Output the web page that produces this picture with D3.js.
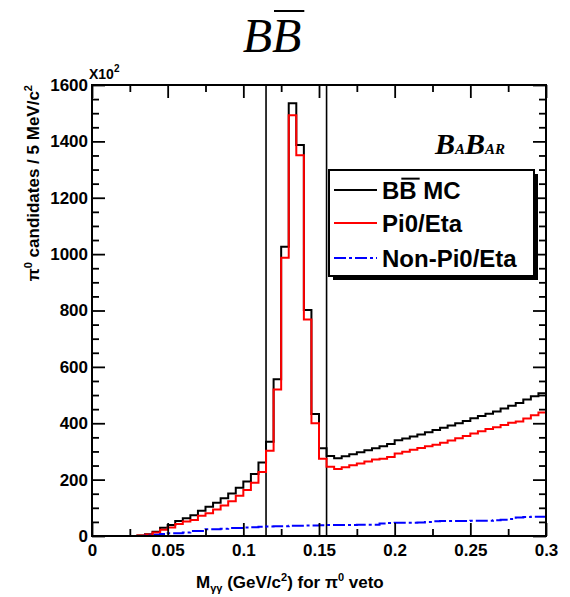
<!DOCTYPE html>
<html>
<head>
<meta charset="utf-8">
<script src="https://cdn.jsdelivr.net/npm/d3@7"></script>
<style>
    body { margin: 0; background: #fff; }
    svg text { font-family: "Liberation Sans", Arial, Helvetica, sans-serif; }
</style>
</head>
<body>
<div id="chart"></div>
<script>
// 5 MeV bins from 0 to 0.3 GeV/c^2 (values in units of 10^2)
const binWidth = 0.005;
const xDomain = [0, 0.3];
const yDomain = [0, 1600];
const vetoCuts = [0.115, 0.155];

const bbMC = [
    0, 0, 0, 0, 0, 0, 2, 6, 15, 29,
    39, 53, 63, 74, 90, 104, 118, 134, 151, 171,
    193, 220, 261, 334, 556, 1026, 1535, 1387, 802, 433,
    311, 284, 276, 283, 290, 297, 304, 311, 318, 326,
    340, 346, 353, 360, 368, 376, 384, 392, 400, 408,
    418, 426, 434, 442, 452, 462, 472, 484, 496, 506
];
const pi0Eta = [
    0, 0, 0, 0, 0, 0, 2, 5, 12, 22,
    30, 43, 51, 57, 72, 81, 94, 108, 123, 143,
    163, 189, 227, 302, 520, 987, 1493, 1351, 768, 400,
    274, 246, 238, 244, 251, 257, 264, 271, 274, 280,
    293, 299, 306, 312, 318, 324, 331, 339, 347, 355,
    364, 372, 380, 386, 394, 402, 406, 417, 428, 438
];
const nonPi0Eta = [
    0, 0, 0, 0, 0, 0, 0, 2, 4, 7,
    10, 10, 12, 18, 18, 24, 24, 26, 28, 28,
    30, 31, 33, 34, 35, 35, 36, 36, 37, 37,
    38, 39, 39, 39, 39, 40, 40, 40, 44, 46,
    47, 47, 47, 48, 50, 52, 53, 53, 53, 53,
    54, 54, 54, 56, 58, 60, 66, 67, 68, 68
];

const xMajor = [0, 0.05, 0.1, 0.15, 0.2, 0.25, 0.3];
const xMinor = [0.025, 0.075, 0.125, 0.175, 0.225, 0.275];
const yMajor = [0, 200, 400, 600, 800, 1000, 1200, 1400, 1600];
const yMinor = d3.range(0, 1601, 50).filter(v => v % 200 !== 0);

const legendItems = [
    { label: "BB MC", color: "#000000", dash: null, bar: true },
    { label: "Pi0/Eta", color: "#ff0000", dash: null },
    { label: "Non-Pi0/Eta", color: "#0000ff", dash: "12,3,3,3" }
];

const width = 570, height = 597;
const frame = { left: 92, right: 546, top: 85, bottom: 536 };

const svg = d3.select("#chart")
    .append("svg")
    .attr("width", width)
    .attr("height", height);

const x = d3.scaleLinear().domain(xDomain).range([frame.left, frame.right]);
const y = d3.scaleLinear().domain(yDomain).range([frame.bottom, frame.top]);

// step outline like ROOT's histogram drawing
function histPoints(values) {
    const pts = [[xDomain[0], 0]];
    values.forEach((v, i) => pts.push([xDomain[0] + i * binWidth, v]));
    pts.push([xDomain[1], values[values.length - 1]]);
    pts.push([xDomain[1], 0]);
    return pts;
}
const stepLine = d3.line()
    .x(d => x(d[0]))
    .y(d => y(d[1]))
    .curve(d3.curveStepAfter);

svg.append("path")
    .attr("d", stepLine(histPoints(bbMC)))
    .attr("fill", "none")
    .attr("stroke", "#000")
    .attr("stroke-width", 2);

// veto window lines
svg.append("g")
    .selectAll("line")
    .data(vetoCuts)
    .enter().append("line")
    .attr("x1", d => x(d))
    .attr("x2", d => x(d))
    .attr("y1", y(yDomain[0]))
    .attr("y2", y(yDomain[1]))
    .attr("stroke", "#000")
    .attr("stroke-width", 1.6);

svg.append("path")
    .attr("d", stepLine(histPoints(pi0Eta)))
    .attr("fill", "none")
    .attr("stroke", "#ff0000")
    .attr("stroke-width", 2);

svg.append("path")
    .attr("d", stepLine(histPoints(nonPi0Eta)))
    .attr("fill", "none")
    .attr("stroke", "#0000ff")
    .attr("stroke-width", 2)
    .attr("stroke-dasharray", "12,3,3,3");

// axes: ticks point into the frame
function styleAxis(g) {
    g.select(".domain").remove();
    g.selectAll(".tick line").attr("stroke", "#000").attr("stroke-width", 1.8);
    g.selectAll(".tick text")
        .attr("fill", "#000")
        .attr("font-size", "17px")
        .attr("font-weight", "bold")
        .attr("font-family", "Liberation Sans, Arial, sans-serif");
}

svg.append("g")
    .attr("transform", `translate(0,${frame.bottom})`)
    .call(d3.axisBottom(x).tickValues(xMajor).tickSize(-13).tickPadding(8)
        .tickFormat(d => d === 0 ? "0" : d3.format("~g")(d)))
    .call(styleAxis);
svg.append("g")
    .attr("transform", `translate(0,${frame.bottom})`)
    .call(d3.axisBottom(x).tickValues(xMinor).tickSize(-7).tickFormat(""))
    .call(styleAxis);
svg.append("g")
    .attr("transform", `translate(0,${frame.top})`)
    .call(d3.axisTop(x).tickValues(xMajor).tickSize(-13).tickFormat(""))
    .call(styleAxis);
svg.append("g")
    .attr("transform", `translate(0,${frame.top})`)
    .call(d3.axisTop(x).tickValues(xMinor).tickSize(-7).tickFormat(""))
    .call(styleAxis);

svg.append("g")
    .attr("transform", `translate(${frame.left},0)`)
    .call(d3.axisLeft(y).tickValues(yMajor).tickSize(-13).tickPadding(4).tickFormat(d3.format("d")))
    .call(styleAxis);
svg.append("g")
    .attr("transform", `translate(${frame.left},0)`)
    .call(d3.axisLeft(y).tickValues(yMinor).tickSize(-7).tickFormat(""))
    .call(styleAxis);
svg.append("g")
    .attr("transform", `translate(${frame.right},0)`)
    .call(d3.axisRight(y).tickValues(yMajor).tickSize(-13).tickFormat(""))
    .call(styleAxis);
svg.append("g")
    .attr("transform", `translate(${frame.right},0)`)
    .call(d3.axisRight(y).tickValues(yMinor).tickSize(-7).tickFormat(""))
    .call(styleAxis);

// frame
svg.append("rect")
    .attr("x", frame.left)
    .attr("y", frame.top)
    .attr("width", frame.right - frame.left)
    .attr("height", frame.bottom - frame.top)
    .attr("fill", "none")
    .attr("stroke", "#000")
    .attr("stroke-width", 2);

// x10^2 exponent label
const expo = svg.append("text")
    .attr("x", 89)
    .attr("y", 79)
    .attr("font-size", "14px")
    .attr("font-weight", "bold");
expo.append("tspan").text("X10");
expo.append("tspan").attr("dy", -7).attr("font-size", "10px").text("2");

// axis titles
const xTitle = svg.append("text")
    .attr("x", 196)
    .attr("y", 588)
    .attr("font-size", "17px")
    .attr("font-weight", "bold");
xTitle.append("tspan").text("M");
xTitle.append("tspan").attr("dy", 4).attr("font-size", "11px").text("γγ");
xTitle.append("tspan").attr("dy", -4).text(" (GeV/c");
xTitle.append("tspan").attr("dy", -7).attr("font-size", "11px").text("2");
xTitle.append("tspan").attr("dy", 7).text(") for π");
xTitle.append("tspan").attr("dy", -7).attr("font-size", "11px").text("0");
xTitle.append("tspan").attr("dy", 7).text(" veto");

const yTitle = svg.append("text")
    .attr("transform", `translate(39,${frame.top}) rotate(-90)`)
    .attr("text-anchor", "end")
    .attr("font-size", "17px")
    .attr("font-weight", "bold");
yTitle.append("tspan").text("π");
yTitle.append("tspan").attr("dy", -7).attr("font-size", "11px").text("0");
yTitle.append("tspan").attr("dy", 7).text(" candidates / 5 MeV/c");
yTitle.append("tspan").attr("dy", -7).attr("font-size", "11px").text("2");

// put a bar over a character of a text node
function overbar(textNode, charIndex, dy) {
    const el = textNode.node();
    const s = el.getStartPositionOfChar(charIndex);
    const e = el.getEndPositionOfChar(charIndex);
    const bb = el.getBBox();
    svg.append("line")
        .attr("x1", s.x + 2)
        .attr("x2", e.x + 3)
        .attr("y1", bb.y + dy)
        .attr("y2", bb.y + dy)
        .attr("stroke", "#000")
        .attr("stroke-width", 2);
}

// title
const title = svg.append("text")
    .attr("x", 272)
    .attr("y", 52)
    .attr("text-anchor", "middle")
    .style("font-family", "'Liberation Serif', 'Times New Roman', serif")
    .attr("font-style", "italic")
    .attr("font-size", "48px")
    .text("BB");
overbar(title, 1, 2);

// BaBar logo
const logo = svg.append("text")
    .attr("x", 435)
    .attr("y", 154)
    .style("font-family", "'Liberation Serif', 'Times New Roman', serif")
    .attr("font-style", "italic")
    .attr("font-weight", "bold");
logo.append("tspan").attr("font-size", "30px").text("B");
logo.append("tspan").attr("font-size", "15px").text("A");
logo.append("tspan").attr("font-size", "30px").text("B");
logo.append("tspan").attr("font-size", "15px").text("AR");

// legend with shadow
const legend = { x: 329, y: 170, w: 205, h: 106 };
svg.append("rect")
    .attr("x", legend.x + 4)
    .attr("y", legend.y + 4)
    .attr("width", legend.w)
    .attr("height", legend.h)
    .attr("fill", "#000");
svg.append("rect")
    .attr("x", legend.x)
    .attr("y", legend.y)
    .attr("width", legend.w)
    .attr("height", legend.h)
    .attr("fill", "#fff")
    .attr("stroke", "#000")
    .attr("stroke-width", 2);

const rowY = [190, 223, 258];
legendItems.forEach((item, i) => {
    svg.append("line")
        .attr("x1", legend.x + 5)
        .attr("x2", legend.x + 48)
        .attr("y1", rowY[i])
        .attr("y2", rowY[i])
        .attr("stroke", item.color)
        .attr("stroke-width", 2)
        .attr("stroke-dasharray", item.dash);
    const t = svg.append("text")
        .attr("x", legend.x + 53)
        .attr("y", rowY[i])
        .attr("dy", "0.36em")
        .attr("font-size", "24px")
        .attr("font-weight", "bold")
        .text(item.label);
    if (item.bar) overbar(t, 1, 2);
});
</script>
</body>
</html>
